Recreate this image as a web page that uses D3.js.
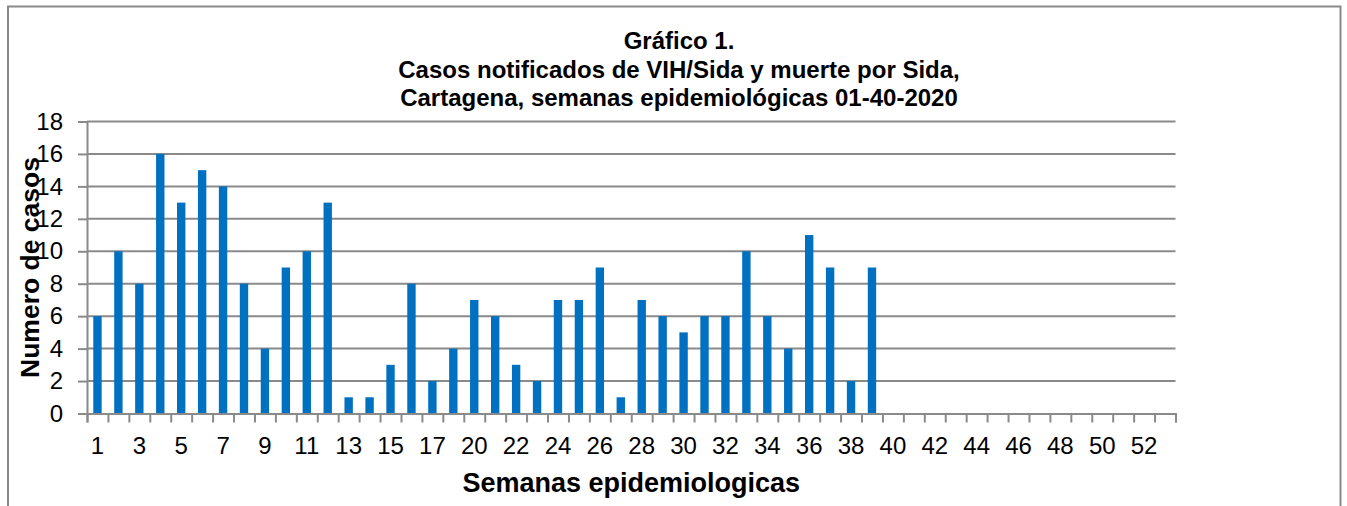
<!DOCTYPE html>
<html>
<head>
<meta charset="utf-8">
<script src="https://cdn.jsdelivr.net/npm/d3@7"></script>
<style>
  body { margin: 0; background: #fff; }
  text { font-family: "Liberation Sans", Arial, sans-serif; }
</style>
</head>
<body>
<script>
// epidemiological weeks on the axis (week 19 is absent in the source sheet)
const weeks = ["1","2","3","4","5","6","7","8","9","10","11","12","13","14","15","16","17","18",
  "20","21","22","23","24","25","26","27","28","29","30","31","32","33","34","35","36","37","38",
  "39","40","41","42","43","44","45","46","47","48","49","50","51","52","53"];
// reported cases per week
const cases = [6,10,8,16,13,15,14,8,4,9,10,13,1,1,3,8,2,4,7,6,3,2,7,7,9,1,7,6,5,6,6,10,6,4,11,9,2,9];
const yTicks = [0,2,4,6,8,10,12,14,16,18];
const titleLines = ["Gráfico 1.", "Casos notificados de VIH/Sida y muerte por Sida,", "Cartagena, semanas epidemiológicas 01-40-2020"];

const width = 1347, height = 506;
const plotLeft = 87, plotRight = 1175.5, plotTop = 121.5, plotBottom = 413.5;
const grey = '#8a8a8a';

const svg = d3.select('body').append('svg')
  .attr('width', width)
  .attr('height', height);

// outer frame
svg.append('rect')
  .attr('x', 8).attr('y', 6.5)
  .attr('width', 1332.5).attr('height', 520)
  .attr('fill', 'none')
  .attr('stroke', grey)
  .attr('stroke-width', 2);

const x = d3.scaleBand()
  .domain(weeks)
  .range([plotLeft, plotRight])
  .paddingInner(0.6)
  .paddingOuter(0.3);

// boundaries between categories, for the tick marks
const xEdge = d3.scaleLinear().domain([0, weeks.length]).range([plotLeft, plotRight]);

const y = d3.scaleLinear().domain([0, 18]).range([plotBottom, plotTop]);

// gridlines
svg.append('g')
  .selectAll('line')
  .data(yTicks.filter(d => d > 0))
  .enter().append('line')
  .attr('x1', plotLeft).attr('x2', plotRight)
  .attr('y1', d => y(d)).attr('y2', d => y(d))
  .attr('stroke', grey)
  .attr('stroke-width', 2);

// bars
svg.append('g')
  .selectAll('rect')
  .data(cases)
  .enter().append('rect')
  .attr('x', (d, i) => x(weeks[i]))
  .attr('y', d => y(d))
  .attr('width', x.bandwidth())
  .attr('height', d => plotBottom - y(d))
  .attr('fill', '#0070c0');

// y axis
const yAxis = svg.append('g')
  .attr('transform', `translate(${plotLeft},0)`)
  .call(d3.axisLeft(y).tickValues(yTicks).tickSize(9).tickPadding(15));
yAxis.selectAll('text').attr('font-size', 24).attr('fill', '#000').attr('font-family', '"Liberation Sans", Arial, sans-serif');

// x axis tick marks
const xTickAxis = svg.append('g')
  .attr('transform', `translate(0,${plotBottom})`)
  .call(d3.axisBottom(xEdge).tickValues(d3.range(weeks.length + 1)).tickSize(9).tickFormat(''));

// x axis labels, every other week
const xAxis = svg.append('g')
  .attr('transform', `translate(0,${plotBottom})`)
  .call(d3.axisBottom(x).tickSize(0).tickPadding(23.5).tickFormat((d, i) => i % 2 === 0 ? d : ''));
xAxis.select('.domain').remove();
xAxis.selectAll('text').attr('font-size', 24).attr('fill', '#000').attr('font-family', '"Liberation Sans", Arial, sans-serif');

[yAxis, xTickAxis].forEach(g => {
  g.selectAll('.domain, line').attr('stroke', grey).attr('stroke-width', 2);
});

// title
svg.append('g')
  .selectAll('text')
  .data(titleLines)
  .enter().append('text')
  .attr('x', 679)
  .attr('y', (d, i) => 49 + i * 28.5)
  .attr('text-anchor', 'middle')
  .attr('font-size', 24)
  .attr('font-weight', 'bold')
  .text(d => d);

// axis titles
svg.append('text')
  .attr('x', (plotLeft + plotRight) / 2)
  .attr('y', 492)
  .attr('text-anchor', 'middle')
  .attr('font-size', 27)
  .attr('font-weight', 'bold')
  .text('Semanas epidemiologicas');

svg.append('text')
  .attr('transform', `translate(39,${(plotTop + plotBottom) / 2}) rotate(-90)`)
  .attr('text-anchor', 'middle')
  .attr('font-size', 26.5)
  .attr('font-weight', 'bold')
  .text('Numero de casos');
</script>
</body>
</html>
